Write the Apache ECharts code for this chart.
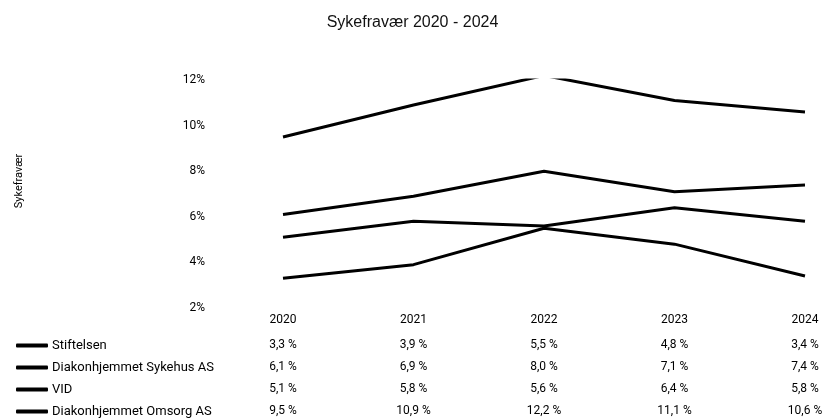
<!DOCTYPE html>
<html>
<head>
<meta charset="utf-8">
<script src="https://cdn.jsdelivr.net/npm/echarts@6/dist/echarts.min.js"></script>
<style>
  html, body { margin: 0; padding: 0; background: #fff; }
  #chart { width: 825px; height: 419px; }
</style>
</head>
<body>
<div id="chart"></div>
<script>
    var years = ['2020', '2021', '2022', '2023', '2024'];
    var seriesNames = ['Stiftelsen', 'Diakonhjemmet Sykehus AS', 'VID', 'Diakonhjemmet Omsorg AS'];
    var stiftelsen = [3.3, 3.9, 5.5, 4.8, 3.4];
    var sykehus = [6.1, 6.9, 8.0, 7.1, 7.4];
    var vid = [5.1, 5.8, 5.6, 6.4, 5.8];
    var omsorg = [9.5, 10.9, 12.2, 11.1, 10.6];
    var yTicks = [2, 4, 6, 8, 10, 12];

    var allValues = [stiftelsen, sykehus, vid, omsorg];
    var font = 'Roboto';

    function fmt(v) {
        return v.toFixed(1).replace('.', ',') + ' %';
    }

    var myChart = echarts.init(document.getElementById('chart'));

    // x axes: first one is the year row, then one row per series (data table)
    var xAxes = [{
        type: 'category',
        data: years,
        boundaryGap: false,
        axisLine: { show: false },
        axisTick: { show: false },
        axisLabel: { interval: 0, margin: 6, color: '#000', fontFamily: font, fontSize: 12 }
    }];
    allValues.forEach(function (vals, i) {
        xAxes.push({
            type: 'category',
            gridIndex: 0,
            position: 'bottom',
            offset: 25 + i * 22,
            data: vals.map(fmt),
            boundaryGap: false,
            axisLine: { show: false },
            axisTick: { show: false },
            axisLabel: { interval: 0, margin: 6, color: '#000', fontFamily: font, fontSize: 12 }
        });
    });

    // one legend per table row, so the keys sit next to their values
    var legends = seriesNames.map(function (name, i) {
        return {
            orient: 'vertical',
            left: 16,
            top: 339 + i * 22,
            padding: 0,
            itemWidth: 32,
            itemHeight: 4,
            icon: 'roundRect',
            data: [name],
            textStyle: { color: '#000', fontFamily: font, fontSize: 13, padding: [0, 0, 0, -1] }
        };
    });

    var option = {
        animation: false,
        title: {
            text: 'Sykefravær 2020 - 2024',
            left: 'center',
            top: 10,
            textStyle: { fontFamily: 'Liberation Sans', fontSize: 16, fontWeight: 'normal', color: '#111' }
        },
        legend: legends,
        grid: {
            left: 283,
            right: 20,
            top: 80,
            bottom: 111,
            outerBoundsMode: 'none'
        },
        xAxis: xAxes,
        yAxis: {
            type: 'value',
            min: yTicks[0],
            max: yTicks[yTicks.length - 1],
            interval: 2,
            name: 'Sykefravær',
            nameLocation: 'middle',
            nameRotate: 90,
            nameGap: 258,
            nameTextStyle: { color: '#000', fontFamily: font, fontSize: 11, padding: [0, 0, 0, 26] },
            axisLine: { show: false },
            axisTick: { show: false },
            splitLine: { show: false },
            axisLabel: { formatter: '{value}%', margin: 78, color: '#000', fontFamily: font, fontSize: 12 }
        },
        series: allValues.map(function (vals, i) {
            return {
                name: seriesNames[i],
                type: 'line',
                data: vals,
                showSymbol: false,
                symbol: 'none',
                color: '#000',
                lineStyle: { color: '#000', width: 3 }
            };
        })
    };

    myChart.setOption(option);
</script>
</body>
</html>
